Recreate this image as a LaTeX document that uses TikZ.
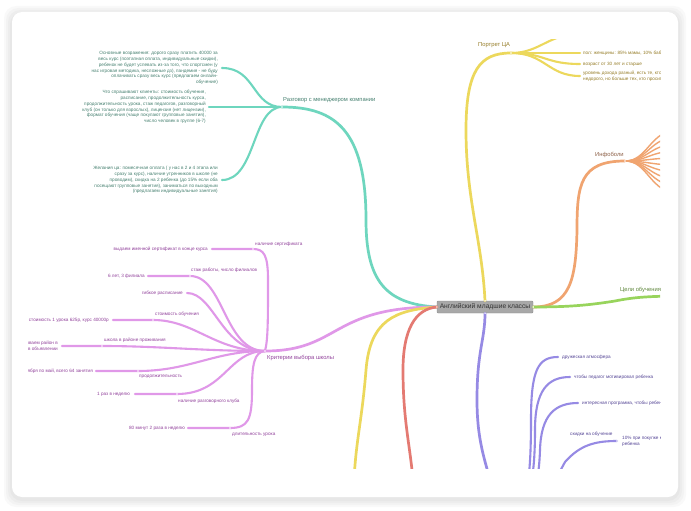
\documentclass[tikz,border=0pt]{standalone}
\usepackage{fontspec}
\setmainfont{Liberation Sans}
\usetikzlibrary{positioning}
\definecolor{mmteal}{RGB}{110,214,190}
\definecolor{mmtealtext}{RGB}{70,128,112}
\definecolor{mmyellow}{RGB}{236,216,92}
\definecolor{mmyellowtext}{RGB}{150,125,40}
\definecolor{mmorange}{RGB}{240,164,112}
\definecolor{mmorangetext}{RGB}{140,95,70}
\definecolor{mmgreen}{RGB}{152,212,92}
\definecolor{mmgreentext}{RGB}{95,135,60}
\definecolor{mmpink}{RGB}{224,152,232}
\definecolor{mmpinktext}{RGB}{145,65,155}
\definecolor{mmred}{RGB}{228,122,114}
\definecolor{mmviolet}{RGB}{150,138,228}
\definecolor{mmviolettext}{RGB}{85,70,150}
\definecolor{mmroot}{RGB}{168,168,168}

\begin{document}
\begin{tikzpicture}[x=1pt, y=-1pt,
  branch/.style={line width=2.7pt, line cap=round},
  twig/.style={line width=2.1pt, line cap=round},
  leaf/.style={font=\fontsize{4.65}{5.8}\selectfont, inner sep=0pt},
  topic/.style={font=\fontsize{5.8}{7}\selectfont, inner sep=0pt},
  joint/.style={circle, fill=white, inner sep=0pt, minimum size=1.6pt},
  root/.style={fill=mmroot, draw=mmroot!85!black, line width=0.4pt,
    rounded corners=1pt, minimum width=96pt, minimum height=12pt,
    inner sep=0pt, font=\fontsize{6.7}{8}\selectfont, text=black!80}
]
  \useasboundingbox (0,0) rectangle (691,511);
  \fill[white] (0,0) rectangle (691,511);
  % card with soft shadow
  \foreach \s in {8,6,4,2}
    \fill[black, opacity=0.025, rounded corners=12pt]
      (12-\s,12-\s+2) rectangle (678+\s,497+\s+2);
  \fill[white, rounded corners=10pt] (12,12) rectangle (678,497);

  \begin{scope}
  \clip (28,40) rectangle (660,468);

  \node[root] (root) at (485,307) {Английский младшие классы};

  % hubs
  \coordinate (tealhub) at (282,107);
  \coordinate (yellowhub) at (511,53);
  \coordinate (orangehub) at (625,161);
  \coordinate (pinkhub) at (265,351);
  \coordinate (violethub) at (515,520);

  % Разговор с менеджером компании
  \draw[branch, mmteal] (root.west) .. controls (385,304) and (366,280) .. (366,220)
    .. controls (366,130) and (335,107) .. (tealhub);
  \node[topic, text=mmtealtext, anchor=base west] (tealtopic) at (283,102) {Разговор с менеджером компании};
  \coordinate (teal1) at (222,68);
  \coordinate (teal2) at (209,107);
  \coordinate (teal3) at (222,180);
  \draw[twig, mmteal] (tealhub) .. controls (252,107) and (256,68) .. (teal1);
  \draw[twig, mmteal] (tealhub) -- (teal2);
  \draw[twig, mmteal] (tealhub) .. controls (252,107) and (256,180) .. (teal3);
  \node[leaf, text=mmtealtext, align=right, anchor=east] (tealtext1) at (218,68)
    {Основные возражения: дорого сразу платить 40000 за\\
     весь курс (поэтапная оплата, индивидуальные скидки),\\
     ребенок не будет успевать из-за того, что спортсмен (у\\
     нас игровая методика, несложные дз), пандемия - не буду\\
     оплачивать сразу весь курс (предлагаем онлайн-\\
     обучение)};
  \node[leaf, text=mmtealtext, align=right, anchor=east] (tealtext2) at (206,107)
    {Что спрашивают клиенты: стоимость обучения,\\
     расписание, продолжительность курса,\\
     продолжительность урока, стаж педагогов, разговорный\\
     клуб (он только для взрослых), лицензия (нет лицензии),\\
     формат обучения (чаще покупают групповые занятия),\\
     число человек в группе (6-7)};
  \node[leaf, text=mmtealtext, align=right, anchor=east] (tealtext3) at (218,180)
    {Желания ца: помесячная оплата ( у нас в 2 и 4 этапа или\\
     сразу за курс), наличие утренников в школе (не\\
     проводим), скидка на 2 ребенка (до 15\% если оба\\
     посещают групповые занятия), заниматься по выходным\\
     (предлагаем индивидуальные занятия)};

  % Портрет ЦА
  \draw[branch, mmyellow] (root.north) .. controls (482,240) and (466,200) .. (466,130)
    .. controls (466,70) and (480,53) .. (yellowhub);
  \node[topic, text=mmyellowtext, anchor=base west] (yellowtopic) at (478,47) {Портрет ЦА};
  \coordinate (yellow0) at (580,34);
  \coordinate (yellow1) at (580,53);
  \coordinate (yellow2) at (580,64);
  \coordinate (yellow3) at (580,76);
  \draw[twig, mmyellow] (yellowhub) .. controls (540,53) and (548,34) .. (yellow0);
  \draw[twig, mmyellow] (yellowhub) -- (yellow1);
  \draw[twig, mmyellow] (yellowhub) .. controls (545,53) and (545,64) .. (yellow2);
  \draw[twig, mmyellow] (yellowhub) .. controls (545,53) and (548,76) .. (yellow3);
  \node[leaf, text=mmyellowtext, anchor=west] at ([xshift=3pt]yellow1) {пол: женщины: 85\% мамы, 10\% бабушки};
  \node[leaf, text=mmyellowtext, anchor=west] at ([xshift=3pt]yellow2) {возраст от 30 лет и старше};
  \node[leaf, text=mmyellowtext, anchor=west, align=left] at ([xshift=3pt]yellow3)
    {уровень дохода разный, есть те, кто хочет\\ недорого, но больше тех, кто просит качество};

  % Инфоболи
  \draw[branch, mmorange] (root.east) .. controls (570,307) and (576,280) .. (577,230)
    .. controls (577,185) and (580,161) .. (orangehub);
  \node[topic, text=mmorangetext, anchor=base west] (orangetopic) at (595,156) {Инфоболи};
  \foreach \y in {130,137,144,151,158,165,172,179,186,193}
    \draw[line width=1.4pt, line cap=round, mmorange] (orangehub) .. controls (648,161) and (650,\y) .. (678,\y);

  % Цели обучения
  \draw[branch, mmgreen] (root.east) .. controls (570,307) and (590,305) .. (615,301)
    .. controls (635,297) and (650,296) .. (690,296);
  \node[topic, text=mmgreentext, anchor=base west] (greentopic) at (620,291.5) {Цели обучения};

  % Критерии выбора школы
  \draw[branch, mmpink] (root.west) .. controls (330,307) and (340,351) .. (pinkhub);
  \node[topic, text=mmpinktext, anchor=base west] (pinktopic) at (267,359) {Критерии выбора школы};
  \coordinate (pink1) at (253,249); \coordinate (pinkleaf1) at (212,249);
  \coordinate (pink2) at (190,276); \coordinate (pinkleaf2) at (148,276);
  \coordinate (pink3) at (187,293);
  \coordinate (pink4) at (153,320); \coordinate (pinkleaf4) at (113,320);
  \coordinate (pink5) at (102,346); \coordinate (pinkleaf5) at (62,346);
  \coordinate (pink6) at (138,371); \coordinate (pinkleaf6) at (96,371);
  \coordinate (pink7) at (177,394); \coordinate (pinkleaf7) at (135,394);
  \coordinate (pink8) at (230,428); \coordinate (pinkleaf8) at (188,428);
  \draw[twig, mmpink] (pinkhub) .. controls (268,340) and (268,320) .. (268,280)
    .. controls (268,255) and (264,249) .. (pink1) -- (pinkleaf1);
  \draw[twig, mmpink] (pinkhub) .. controls (224,351) and (224,276) .. (pink2) -- (pinkleaf2);
  \draw[twig, mmpink] (pinkhub) .. controls (222,351) and (214,293) .. (pink3);
  \draw[twig, mmpink] (pinkhub) .. controls (214,351) and (195,320) .. (pink4) -- (pinkleaf4);
  \draw[twig, mmpink] (pinkhub) .. controls (200,351) and (160,346) .. (pink5) -- (pinkleaf5);
  \draw[twig, mmpink] (pinkhub) .. controls (214,351) and (190,371) .. (pink6) -- (pinkleaf6);
  \draw[twig, mmpink] (pinkhub) .. controls (228,351) and (225,394) .. (pink7) -- (pinkleaf7);
  \draw[twig, mmpink] (pinkhub) .. controls (254,352) and (252,365) .. (252,390)
    .. controls (252,420) and (248,428) .. (pink8) -- (pinkleaf8);
  \foreach \p in {pink1,pink2,pink4,pink5,pink6,pink7,pink8}
    \node[joint] at (\p) {};
  % child labels
  \node[leaf, text=mmpinktext, anchor=base west] at (255,245.5) {наличие сертификата};
  \node[leaf, text=mmpinktext, anchor=base west] at (191,271.5) {стаж работы, число филиалов};
  \node[leaf, text=mmpinktext, anchor=base west] at (155,315.5) {стоимость обучения};
  \node[leaf, text=mmpinktext, anchor=base west] at (104,341.5) {школа в районе проживания};
  \node[leaf, text=mmpinktext, anchor=base west] at (139,377.5) {продолжительность};
  \node[leaf, text=mmpinktext, anchor=base west] at (178,402.5) {наличие разговорного клуба};
  \node[leaf, text=mmpinktext, anchor=base west] at (232,435.5) {длительность урока};
  % leaves
  \node[leaf, text=mmpinktext, anchor=east] at ([xshift=-4pt]pinkleaf1) {выдаем именной сертификат в конце курса};
  \node[leaf, text=mmpinktext, anchor=east] at ([xshift=-3pt]pinkleaf2) {6 лет, 3 филиала};
  \node[leaf, text=mmpinktext, anchor=east] at ([xshift=-4pt]pink3) {гибкое расписание};
  \node[leaf, text=mmpinktext, anchor=east] at ([xshift=-4pt]pinkleaf4) {стоимость 1 урока 625р, курс 40000р};
  \node[leaf, text=mmpinktext, anchor=east, align=right] at ([xshift=-4pt]pinkleaf5) {указываем район в\\ в объявлении};
  \node[leaf, text=mmpinktext, anchor=east] at ([xshift=-3pt]pinkleaf6) {с сентября по май, всего 64 занятия};
  \node[leaf, text=mmpinktext, anchor=east] at ([xshift=-5pt]pinkleaf7) {1 раз в неделю};
  \node[leaf, text=mmpinktext, anchor=east] at ([xshift=-3pt]pinkleaf8) {80 минут 2 раза в неделю};

  % lower branches
  \draw[branch, mmyellow] (root.west) .. controls (395,310) and (370,320) .. (366,370)
    .. controls (362,420) and (356,440) .. (354,480);
  \draw[branch, mmred] (root.west) .. controls (415,309) and (403,330) .. (403,370)
    .. controls (403,420) and (410,445) .. (413,480);
  \draw[branch, mmviolet] (root.south) .. controls (485,340) and (477,350) .. (477,400)
    .. controls (477,440) and (485,460) .. (490,480);

  % violet sub-branches
  \coordinate (violet1) at (558,357);
  \coordinate (violet2) at (570,377);
  \coordinate (violet3) at (578,403);
  \coordinate (violet4) at (617,441);
  \draw[twig, mmviolet] (violethub) .. controls (528,505) and (531,470) .. (531,420)
    .. controls (531,370) and (538,357) .. (violet1);
  \draw[twig, mmviolet] (violethub) .. controls (531,505) and (535,470) .. (535,430)
    .. controls (535,390) and (548,377) .. (violet2);
  \draw[twig, mmviolet] (violethub) .. controls (534,505) and (539,480) .. (540,450)
    .. controls (541,415) and (555,403) .. (violet3);
  \draw[twig, mmviolet] (violethub) .. controls (545,505) and (555,480) .. (565,462)
    .. controls (580,445) and (595,441) .. (violet4);
  \node[leaf, text=mmviolettext, anchor=west] at ([xshift=4pt]violet1) {дружеская атмосфера};
  \node[leaf, text=mmviolettext, anchor=west] at ([xshift=4pt]violet2) {чтобы педагог мотивировал ребенка};
  \node[leaf, text=mmviolettext, anchor=west] at ([xshift=4pt]violet3) {интересная программа, чтобы ребенку было интересно};
  \node[leaf, text=mmviolettext, anchor=base west] at (570,435) {скидки на обучение};
  \node[leaf, text=mmviolettext, anchor=west, align=left] at ([xshift=5pt]violet4)
    {10\% при покупке курса на второго\\ ребенка};

  % small joints
  \foreach \p in {tealhub,yellowhub,orangehub,pinkhub,violet4}
    \node[joint] at (\p) {};
  \foreach \a in {west,east,north,south}
    \node[joint] at (root.\a) {};
  \end{scope}
\end{tikzpicture}
\end{document}
